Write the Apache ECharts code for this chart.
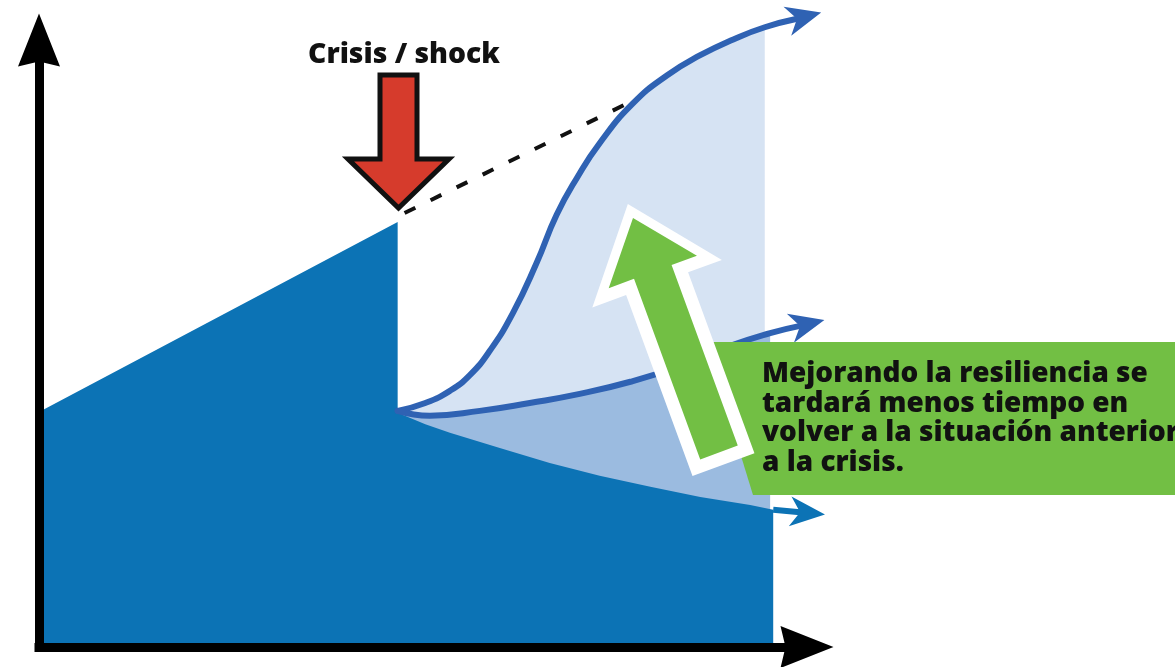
<!DOCTYPE html>
<html><head><meta charset="utf-8">
<script src="https://cdn.jsdelivr.net/npm/echarts@6/dist/echarts.min.js"></script>
<style>html,body{margin:0;padding:0;background:#fff;}#chart{width:1175px;height:667px;}</style>
</head><body><div id="chart"></div>
<script>
// ---- Data (x = time, y = level) ----
const preCrisis = [[0, 38.7], [46.7, 70.0]];
const trendLine = [[47.6, 71.5], [78.3, 90.6]];
// last point of each recovery path = start of its arrow head; the point before it = end of the shading
const fastRecovery = [[46.7,38.9],[50.3,40.2],[53.5,42.2],[56.1,44.8],[58.7,48.8],[61.7,55.0],[64.8,63.3],[67.4,71.2],[70.1,77.4],[73.0,83.0],[77.3,89.5],[81.8,94.2],[86.1,97.5],[90.4,100.1],[94.5,102.1],[98.7,103.5]];
const midRecovery = [[46.7,38.9],[50.9,38.1],[57.4,38.9],[63.9,40.2],[70.4,41.7],[77.0,43.7],[83.5,46.3],[90.0,49.6],[95.2,51.7],[99.1,52.9]];
const slowRecovery = [[46.7,38.6],[50.3,36.7],[53.5,35.3],[60.0,32.8],[66.5,30.3],[73.0,28.2],[79.6,26.4],[86.1,24.7],[92.6,23.4],[95.6,22.6],[99.1,22.2]];
const crisisLabel = 'Crisis / shock';
const noteLines = ['Mejorando la resiliencia se', 'tardará menos tiempo en', 'volver a la situación anterior', 'a la crisis.'];

// ---- Styles ----
const DARK = '#0c73b5', MID = '#9bbbe0', LIGHT = '#d6e3f3', CURVE = '#2f62b3';
const GREEN = '#72bf44', RED = '#d63b2c', INK = '#111111';
const FONT = 'Open Sans';
const SMOOTH = 0.5;

function fitSize(text, weight, family, target) {
  const c = document.createElement('canvas').getContext('2d');
  c.font = weight + ' 100px "' + family + '"';
  return 100 * target / c.measureText(text).width;
}
const noteSize = fitSize(noteLines[0], 800, FONT, 386);
const crisisSize = fitSize(crisisLabel, 800, FONT, 192);

// green arrow geometry (pixels)
function arrowPoly(tip, base, shaftHalf, headHalf, headLen) {
  let ux = tip[0] - base[0], uy = tip[1] - base[1];
  const l = Math.hypot(ux, uy); ux /= l; uy /= l;
  const nx = -uy, ny = ux;
  const h = [tip[0] - ux * headLen, tip[1] - uy * headLen];
  const P = (p, k) => [p[0] + nx * k, p[1] + ny * k];
  return [tip, P(h, headHalf), P(h, shaftHalf), P(base, shaftHalf), P(base, -shaftHalf), P(h, -shaftHalf), P(h, -headHalf)];
}
const gTip = [633, 218], gBase = [719, 452.5];
const gu = (function(){const dx=gTip[0]-gBase[0], dy=gTip[1]-gBase[1], l=Math.hypot(dx,dy); return [dx/l, dy/l];})();
const outerArrow = arrowPoly([gTip[0]+gu[0]*15, gTip[1]+gu[1]*15], [gBase[0]-gu[0]*13, gBase[1]-gu[1]*13], 33, 69, 85);
const innerArrow = arrowPoly(gTip, gBase, 20, 47, 57.5);

const AXIS_ARROW = 'path://M21,0 L42,53 L21,48 L0,53 Z';
const axisCommon = {
  type: 'value', min: 0, max: 100, z: 6,
  axisTick: {show: false}, axisLabel: {show: false}, splitLine: {show: false},
  axisLine: {show: true, onZero: false, symbol: ['none', AXIS_ARROW], symbolSize: [42, 53],
             lineStyle: {color: '#000', width: 9, cap: 'square'}}
};

const heads = [
  {pts: fastRecovery, color: CURVE},
  {pts: midRecovery, color: CURVE},
  {pts: slowRecovery, color: DARK}
];

const chart = echarts.init(document.getElementById('chart'), null, {renderer: 'canvas'});
chart.setOption({
  animation: false,
  backgroundColor: '#ffffff',
  grid: {left: 39, right: 368, top: 40, bottom: 20},
  xAxis: axisCommon,
  yAxis: axisCommon,
  series: [
    { // light shading under the fast path
      type: 'line', z: 1, smooth: SMOOTH, symbol: 'none', clip: false,
      data: fastRecovery.slice(0, -1),
      lineStyle: {width: 0, opacity: 0}, areaStyle: {color: LIGHT, opacity: 1}
    },
    { // medium shading under the intermediate path
      type: 'line', z: 2, smooth: SMOOTH, symbol: 'none', clip: false,
      data: midRecovery.slice(0, -1),
      lineStyle: {width: 0, opacity: 0}, areaStyle: {color: MID, opacity: 1}
    },
    { // dark area: pre-crisis growth + slow recovery
      type: 'custom', z: 3, clip: false, data: [[0, 0]],
      renderItem: function (params, api) {
        const pts = [[0, 0]].concat(preCrisis, slowRecovery.slice(0, -1),
          [[slowRecovery[slowRecovery.length - 2][0], 0]]).map(p => api.coord(p));
        return {type: 'polygon', shape: {points: pts}, style: {fill: DARK}};
      }
    },
    { // dashed trend
      type: 'line', z: 4, symbol: 'none', clip: false, data: trendLine,
      lineStyle: {color: INK, width: 4, type: [12, 17]}
    },
    { type: 'line', z: 4, smooth: SMOOTH, symbol: 'none', clip: false, data: fastRecovery,
      lineStyle: {color: CURVE, width: 6, cap: 'round'} },
    { type: 'line', z: 4, smooth: SMOOTH, symbol: 'none', clip: false, data: midRecovery,
      lineStyle: {color: CURVE, width: 6, cap: 'round'} },
    { type: 'line', z: 4, symbol: 'none', clip: false, data: slowRecovery.slice(-2),
      lineStyle: {color: DARK, width: 6} },
    { // arrow heads
      type: 'custom', z: 5, clip: false,
      data: heads.map(h => { const n = h.pts.length; return [h.pts[n-2][0], h.pts[n-2][1], h.pts[n-1][0], h.pts[n-1][1]]; }),
      renderItem: function (params, api) {
        const a = api.coord([api.value(0), api.value(1)]);
        const b = api.coord([api.value(2), api.value(3)]);
        let dx = b[0] - a[0], dy = b[1] - a[1];
        const l = Math.hypot(dx, dy); dx /= l; dy /= l;
        const nx = -dy, ny = dx;
        const tip = [b[0] + dx * 25, b[1] + dy * 25];
        const bk = [b[0] - dx * 10, b[1] - dy * 10];
        return {type: 'polygon', shape: {points: [tip, [bk[0] + nx * 15, bk[1] + ny * 15], b, [bk[0] - nx * 15, bk[1] - ny * 15]]},
                style: {fill: heads[params.dataIndex].color}};
      }
    }
  ],
  graphic: [
    {type: 'text', z: 20, x: 404, y: 55,
     style: {text: crisisLabel, fontSize: crisisSize, fontWeight: 800, fontFamily: FONT, fill: INK,
             align: 'center', verticalAlign: 'middle', textAlign: 'center', textVerticalAlign: 'middle'}},
    {type: 'polygon', z: 20,
     shape: {points: [[380,75],[417,75],[417,159],[449,159],[398.5,208],[348,159],[380,159]]},
     style: {fill: RED, stroke: INK, lineWidth: 5, lineJoin: 'miter'}},
    {type: 'polygon', z: 15, shape: {points: [[706,342],[1175,342],[1175,495],[753,495]]}, style: {fill: GREEN}},
    {type: 'polygon', z: 16, shape: {points: outerArrow}, style: {fill: '#ffffff'}},
    {type: 'polygon', z: 17, shape: {points: innerArrow}, style: {fill: GREEN}},
    {type: 'text', z: 18, x: 762, y: 359,
     style: {text: noteLines.join('\n'), fontSize: noteSize, lineHeight: 29.7, fontWeight: 800, fontFamily: FONT, fill: INK,
             align: 'left', verticalAlign: 'top', textAlign: 'left', textVerticalAlign: 'top'}}
  ]
});
</script></body></html>
